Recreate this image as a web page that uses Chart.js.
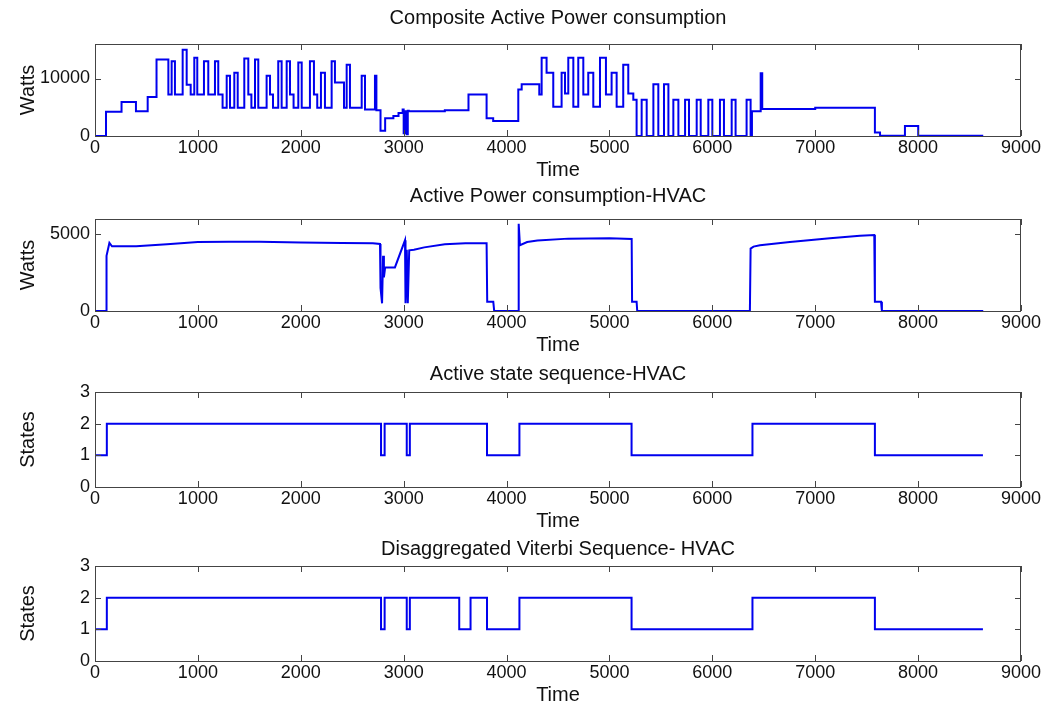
<!DOCTYPE html>
<html>
<head>
<meta charset="utf-8">
<script src="https://cdn.jsdelivr.net/npm/chart.js@4.4.0/dist/chart.umd.min.js"></script>
<style>
  html, body { margin: 0; padding: 0; background: #fff; }
  #page { position: relative; width: 1047px; height: 707px; overflow: hidden; background: #fff; }
  .panel { position: absolute; left: 0; }
</style>
</head>
<body>
<div id="page"></div>
<script>
// ---- data ----
const timeTicks = [0, 1000, 2000, 3000, 4000, 5000, 6000, 7000, 8000, 9000];

// composite active power: value holds from each time until the next one
const compositeTime = [
  0, 107, 258, 398, 512, 598, 713, 745, 777, 852, 891, 930, 965, 994, 1059, 1101,
  1166, 1198, 1240, 1280, 1312, 1354, 1387, 1451, 1490, 1520, 1555, 1587, 1668, 1701,
  1730, 1781, 1814, 1863, 1895, 1930, 1976, 2009, 2089, 2128, 2160, 2196, 2235, 2300,
  2332, 2420, 2446, 2478, 2592, 2624, 2721, 2735, 2775, 2820, 2900, 2950, 2990, 3000,
  3015, 3030, 3040, 3050, 3400, 3630, 3806, 3870, 4114, 4147, 4318, 4341, 4389, 4454,
  4535, 4568, 4600, 4649, 4697, 4746, 4794, 4843, 4908, 4966, 5021, 5070, 5134, 5183,
  5232, 5264, 5313, 5362, 5427, 5475, 5530, 5573, 5621, 5670, 5735, 5773, 5848, 5887,
  5961, 6000, 6074, 6113, 6188, 6226, 6333, 6372, 6385, 6470, 6485, 7000, 7580, 7630,
  7872, 8001, 8633
];
const compositeWatts = [
  0, 4200, 5900, 4300, 6800, 13300, 7200, 13000, 7200, 15000, 8900, 7200, 13600, 7200, 13000, 7200,
  13000, 7200, 4900, 10500, 4900, 11000, 4900, 13500, 7200, 4900, 13300, 4900, 10500, 7200,
  4900, 13000, 4900, 13000, 7200, 4900, 12800, 4900, 13000, 7200, 4900, 11000, 4900, 13000,
  9300, 4900, 12400, 4900, 10500, 4600, 10500, 4500, 900, 3100, 3500, 4000, 4600, 500,
  4300, 300, 4400, 4300, 4500, 7200, 3100, 2600, 8100, 9000, 7200, 13600, 11000, 5100,
  11000, 7400, 13600, 5100, 13600, 7200, 11000, 5100, 13600, 7200, 11000, 5100, 12400, 7400,
  6300, 0, 6300, 0, 9000, 0, 9000, 0, 6300, 0, 6300, 0, 6300, 0,
  6300, 0, 6300, 0, 6300, 0, 6300, 0, 4300, 10900, 4700, 4900, 600, 50,
  1750, 50, 50
];

// HVAC active power, traced as a polyline
const hvacTime = [
  0, 107, 112, 140, 165, 400, 700, 1000, 1300, 1600, 2000, 2400, 2700, 2770, 2775, 2790,
  2800, 2808, 2820, 2915, 3013, 3018, 3030, 3040, 3054, 3100, 3200, 3400, 3600, 3806,
  3812, 3871, 3880, 4114, 4118, 4130, 4200, 4300, 4600, 5000, 5216, 5220, 5264, 5270,
  6365, 6372, 6400, 6463, 6754, 7143, 7435, 7574, 7580, 7640, 7648, 8633
];
const hvacWatts = [
  0, 0, 3600, 4440, 4220, 4230, 4350, 4500, 4520, 4520, 4460, 4440, 4420, 4370, 1500, 500,
  3600, 2200, 2840, 2840, 4610, 500, 4000, 500, 3960, 4000, 4150, 4350, 4420, 4420,
  600, 600, 0, 0, 5690, 4290, 4500, 4600, 4720, 4740, 4700, 600, 600, 0,
  0, 4070, 4200, 4290, 4500, 4740, 4910, 4960, 600, 600, 0, 0
];

// active state sequence (step values)
const stateTime = [0, 115, 2780, 2815, 3030, 3060, 3810, 4125, 5215, 6390, 7580, 8630];
const stateSeq  = [1, 2, 1, 2, 1, 2, 1, 2, 1, 2, 1, 1];

// disaggregated Viterbi sequence (step values)
const viterbiTime = [0, 115, 2780, 2815, 3030, 3060, 3540, 3650, 3810, 4125, 5215, 6390, 7580, 8630];
const viterbiSeq  = [1, 2, 1, 2, 1, 2, 1, 2, 1, 2, 1, 2, 1, 1];

const wattsTicks1 = [0, 10000];
const wattsTicks2 = [0, 5000];
const stateTicks = [0, 1, 2, 3];

// ---- drawing ----
const FONT = 'Liberation Sans, Arial, Helvetica, sans-serif';
const INK = '#111';

const toPoints = (xs, ys) => xs.map((t, i) => ({ x: t, y: ys[i] }));

// MATLAB-style boxed axes with inward tick marks on all four sides
const boxTicks = {
  id: 'boxTicks',
  afterDatasetsDraw(chart) {
    const { ctx, chartArea: a, scales: { x, y } } = chart;
    const len = 6;
    ctx.save();
    ctx.strokeStyle = '#444';
    ctx.lineWidth = 1;
    ctx.beginPath();
    x.ticks.forEach(t => {
      const px = Math.round(x.getPixelForValue(t.value)) + 0.5;
      ctx.moveTo(px, a.bottom); ctx.lineTo(px, a.bottom - len);
      ctx.moveTo(px, a.top); ctx.lineTo(px, a.top + len);
    });
    y.ticks.forEach(t => {
      const py = Math.round(y.getPixelForValue(t.value)) + 0.5;
      ctx.moveTo(a.left, py); ctx.lineTo(a.left + len, py);
      ctx.moveTo(a.right, py); ctx.lineTo(a.right - len, py);
    });
    ctx.stroke();
    ctx.strokeRect(Math.round(a.left) + 0.5, Math.round(a.top) + 0.5,
                   Math.round(a.width) - 1, Math.round(a.height));
    ctx.restore();
  }
};

const panels = [
  { title: 'Composite Active Power consumption', yLabel: 'Watts',
    points: toPoints(compositeTime, compositeWatts), stepped: true,
    yMax: 16000, yTicks: wattsTicks1, boxTop: 44, boxBottom: 136, titleY: 18 },
  { title: 'Active Power consumption-HVAC', yLabel: 'Watts',
    points: toPoints(hvacTime, hvacWatts), stepped: false,
    yMax: 6000, yTicks: wattsTicks2, boxTop: 219, boxBottom: 311, titleY: 196 },
  { title: 'Active state sequence-HVAC', yLabel: 'States',
    points: toPoints(stateTime, stateSeq), stepped: true,
    yMax: 3, yTicks: stateTicks, boxTop: 392, boxBottom: 487, titleY: 374 },
  { title: 'Disaggregated Viterbi Sequence- HVAC', yLabel: 'States',
    points: toPoints(viterbiTime, viterbiSeq), stepped: true,
    yMax: 3, yTicks: stateTicks, boxTop: 566, boxBottom: 661, titleY: 549 }
];

const HEAD = 44;      // title band above each box
const FOOT = 50;      // tick labels + "Time" below each box
const LEFT = 95;      // y axis band
const RIGHT = 26;     // space right of the box
const W = 1047;

const page = document.getElementById('page');

panels.forEach(p => {
  const h = HEAD + (p.boxBottom - p.boxTop) + FOOT;
  const holder = document.createElement('div');
  holder.className = 'panel';
  holder.style.top = (p.boxTop - HEAD) + 'px';
  holder.style.width = W + 'px';
  holder.style.height = h + 'px';
  const canvas = document.createElement('canvas');
  canvas.width = W;
  canvas.height = h;
  holder.appendChild(canvas);
  page.appendChild(holder);

  const titleSize = 20;
  const titleLH = titleSize * 1.2;
  const gap = p.boxTop - p.titleY;

  new Chart(canvas.getContext('2d'), {
    type: 'line',
    data: {
      datasets: [{
        data: p.points,
        borderColor: '#0000ee',
        borderWidth: 2,
        pointRadius: 0,
        fill: false,
        tension: 0,
        stepped: p.stepped
      }]
    },
    options: {
      responsive: false,
      animation: false,
      layout: { padding: { left: 0, right: RIGHT, top: 0, bottom: 0 } },
      plugins: {
        legend: { display: false },
        tooltip: { enabled: false },
        title: {
          display: true,
          fullSize: false,   // centre over the axes box
          text: p.title,
          color: INK,
          font: { family: FONT, size: titleSize, weight: 'normal' },
          padding: { top: HEAD - gap - titleLH / 2, bottom: gap - titleLH / 2 }
        }
      },
      scales: {
        x: {
          type: 'linear',
          min: 0,
          max: 9000,
          afterBuildTicks: s => { s.ticks = timeTicks.map(v => ({ value: v })); },
          afterFit: s => { s.height = FOOT; },
          grid: { display: false, drawTicks: false },
          border: { display: false },
          ticks: {
            color: INK, padding: 1, maxRotation: 0, autoSkip: false,
            font: { family: FONT, size: 18 },
            callback: v => String(v)
          },
          title: {
            display: true, text: 'Time', color: INK,
            font: { family: FONT, size: 20 },
            padding: { top: 0, bottom: 4 }
          }
        },
        y: {
          type: 'linear',
          min: 0,
          max: p.yMax,
          afterBuildTicks: s => { s.ticks = p.yTicks.map(v => ({ value: v })); },
          afterFit: s => { s.width = LEFT; },
          grid: { display: false, drawTicks: false },
          border: { display: false },
          ticks: {
            color: INK, padding: 5,
            font: { family: FONT, size: 18 },
            callback: v => String(v)
          },
          title: {
            display: true, text: p.yLabel, color: INK,
            font: { family: FONT, size: 20 },
            padding: { top: 16, bottom: 0 }
          }
        }
      }
    },
    plugins: [boxTicks]
  });
});
</script>
</body>
</html>
